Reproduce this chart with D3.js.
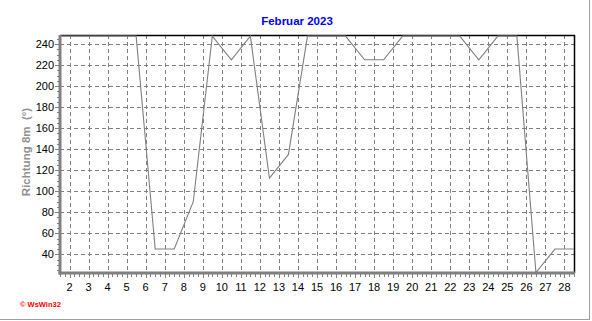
<!DOCTYPE html>
<html><head><meta charset="utf-8">
<script src="https://cdn.jsdelivr.net/npm/d3@7"></script>
<style>
html,body{margin:0;padding:0;background:#fff;}
svg{display:block;}
text{font-family:"Liberation Sans",Arial,sans-serif;}
</style></head>
<body>
<script>
const title = "Februar 2023";
const yLabel = "Richtung 8m  (°)";
const days = d3.range(1, 29);
const values = [247.5,247.5,247.5,247.5,247.5,45,45,90,247.5,225,247.5,112.5,135,247.5,
                247.5,247.5,225,225,247.5,247.5,247.5,247.5,225,247.5,247.5,22.5,45,45];
const yTicks = [40,60,80,100,120,140,160,180,200,220,240];
const xTicks = d3.range(2, 29);

const W = 592, H = 321;
const svg = d3.select("body").append("svg").attr("width", W).attr("height", H);

const x = d3.scaleLinear().domain([1.5, 28.5]).range([60, 574]);
const y = d3.scaleLinear().domain([22.2, 248.6]).range([273, 35]);
const x0 = 60, x1 = 574, yTop = 35, yBot = 273;

// outer frame (right and bottom)
svg.append("line").attr("x1", 589.5).attr("x2", 589.5).attr("y1", 0).attr("y2", 320).attr("stroke", "#a0a0a0");
svg.append("line").attr("x1", 0).attr("x2", 590).attr("y1", 319.5).attr("y2", 319.5).attr("stroke", "#a0a0a0");

// grid
const grid = svg.append("g").attr("stroke", "#808080").attr("stroke-dasharray", "4,3").attr("shape-rendering", "crispEdges");
yTicks.forEach(v => grid.append("line").attr("x1", x0).attr("x2", x1)
  .attr("y1", Math.round(y(v)) + 0.5).attr("y2", Math.round(y(v)) + 0.5));
xTicks.forEach(d => grid.append("line").attr("y1", yTop).attr("y2", yBot)
  .attr("x1", Math.round(x(d)) + 0.5).attr("x2", Math.round(x(d)) + 0.5));

// frame top & right (black)
svg.append("line").attr("x1", x0).attr("x2", x1 + 1).attr("y1", yTop + 0.5).attr("y2", yTop + 0.5)
  .attr("stroke", "#000").attr("stroke-width", 1.5);
svg.append("line").attr("x1", x1 + 0.5).attr("x2", x1 + 0.5).attr("y1", yTop).attr("y2", yBot)
  .attr("stroke", "#000").attr("stroke-width", 1.5);

// minor/major ticks
const tk = svg.append("g").attr("stroke", "#808080").attr("shape-rendering", "crispEdges");
d3.range(25, 250, 5).forEach(v => {
  const yy = Math.round(y(v)) + 0.5;
  if (yy < yTop || yy > yBot) return;
  const major = v % 20 === 0 && v >= 40;
  tk.append("line").attr("x1", major ? 55 : 57).attr("x2", 60).attr("y1", yy).attr("y2", yy);
});
d3.range(1.5, 28.51, 0.25).forEach(d => {
  const xx = Math.round(x(d)) + 0.5;
  const major = Number.isInteger(d);
  tk.append("line").attr("x1", xx).attr("x2", xx).attr("y1", yBot).attr("y2", yBot + (major ? 5 : 4));
});

// axis lines left & bottom (thick gray)
svg.append("line").attr("x1", x0).attr("x2", x0).attr("y1", yTop).attr("y2", yBot + 1.5)
  .attr("stroke", "#808080").attr("stroke-width", 3);
svg.append("line").attr("x1", x0 - 1.5).attr("x2", x1 + 1).attr("y1", yBot).attr("y2", yBot)
  .attr("stroke", "#808080").attr("stroke-width", 3);

// data line
const line = d3.line().x((d, i) => x(days[i] + 0.5)).y(d => y(d));
svg.append("path").datum(values).attr("d", line).attr("fill", "none")
  .attr("stroke", "#808080").attr("stroke-width", 1.1);

// tick labels
svg.append("g").selectAll("text").data(yTicks).join("text")
  .attr("x", 54).attr("y", d => y(d) + 4).attr("text-anchor", "end")
  .attr("font-size", 11).attr("fill", "#000").text(d => d);
svg.append("g").selectAll("text").data(xTicks).join("text")
  .attr("x", d => x(d)).attr("y", 291).attr("text-anchor", "middle")
  .attr("font-size", 11).attr("fill", "#000").text(d => d);

// title
svg.append("text").attr("x", 297).attr("y", 25).attr("text-anchor", "middle")
  .attr("font-size", 11.5).attr("font-weight", "bold").attr("fill", "#0000ff").text(title);

// y label
svg.append("text").attr("transform", "translate(30,152) rotate(-90)").attr("text-anchor", "middle")
  .style("white-space", "pre")
  .attr("font-size", 11.5).attr("font-weight", "bold").attr("fill", "#909090").text(yLabel);

// copyright
svg.append("text").attr("x", 20).attr("y", 307).attr("font-size", 7.5).attr("font-weight", "bold")
  .attr("fill", "#ff0000").text("© WsWin32");
</script>
</body></html>
